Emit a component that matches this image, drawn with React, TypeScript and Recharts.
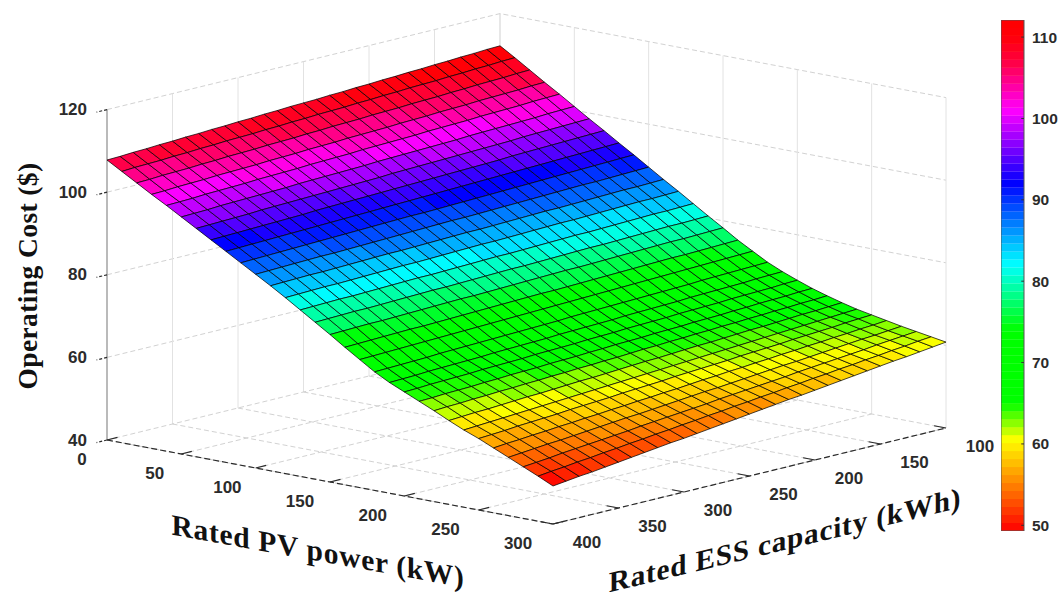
import { ComposedChart, ReferenceArea, ReferenceLine, Scatter, ScatterChart, XAxis, YAxis } from 'recharts'

// grid of the surface
const pvValues = [0, 10, 20, 30, 40, 50, 60, 70, 80, 90, 100, 110, 120, 130, 140, 150, 160, 170, 180, 190, 200, 210, 220, 230, 240, 250, 260, 270, 280, 290, 300]
const essValues = [100, 110, 120, 130, 140, 150, 160, 170, 180, 190, 200, 210, 220, 230, 240, 250, 260, 270, 280, 290, 300, 310, 320, 330, 340, 350, 360, 370, 380, 390, 400]

// operating cost, one row per PV value, one column per ESS value
const costRows = [
  [112.2, 112.1, 111.9, 111.8, 111.6, 111.5, 111.3, 111.2, 111.0, 110.9, 110.7, 110.6, 110.4, 110.3, 110.1, 110.0, 109.9, 109.7, 109.6, 109.4, 109.3, 109.1, 109.0, 108.8, 108.7, 108.5, 108.4, 108.2, 108.1, 107.9, 107.8],
  [110.0, 109.9, 109.7, 109.6, 109.4, 109.3, 109.1, 109.0, 108.9, 108.7, 108.6, 108.4, 108.3, 108.1, 108.0, 107.9, 107.7, 107.6, 107.4, 107.3, 107.1, 107.0, 106.9, 106.7, 106.6, 106.4, 106.3, 106.1, 106.0, 105.9, 105.7],
  [107.7, 107.6, 107.4, 107.3, 107.2, 107.0, 106.9, 106.7, 106.6, 106.5, 106.3, 106.2, 106.1, 105.9, 105.8, 105.7, 105.5, 105.4, 105.2, 105.1, 105.0, 104.8, 104.7, 104.6, 104.4, 104.3, 104.1, 104.0, 103.9, 103.7, 103.6],
  [105.4, 105.3, 105.1, 105.0, 104.9, 104.8, 104.6, 104.5, 104.4, 104.2, 104.1, 104.0, 103.8, 103.7, 103.6, 103.5, 103.3, 103.2, 103.1, 102.9, 102.8, 102.7, 102.5, 102.4, 102.3, 102.2, 102.0, 101.9, 101.8, 101.6, 101.5],
  [103.2, 103.1, 103.0, 102.8, 102.7, 102.6, 102.5, 102.3, 102.2, 102.1, 102.0, 101.8, 101.7, 101.6, 101.5, 101.4, 101.2, 101.1, 101.0, 100.9, 100.7, 100.6, 100.5, 100.4, 100.2, 100.1, 100.0, 99.9, 99.7, 99.6, 99.5],
  [100.9, 100.8, 100.7, 100.5, 100.4, 100.3, 100.2, 100.1, 100.0, 99.8, 99.7, 99.6, 99.5, 99.4, 99.3, 99.2, 99.0, 98.9, 98.8, 98.7, 98.6, 98.5, 98.3, 98.2, 98.1, 98.0, 97.9, 97.8, 97.6, 97.5, 97.4],
  [98.6, 98.5, 98.4, 98.3, 98.2, 98.1, 97.9, 97.8, 97.7, 97.6, 97.5, 97.4, 97.3, 97.2, 97.1, 97.0, 96.8, 96.7, 96.6, 96.5, 96.4, 96.3, 96.2, 96.1, 96.0, 95.9, 95.7, 95.6, 95.5, 95.4, 95.3],
  [96.4, 96.3, 96.2, 96.1, 96.0, 95.9, 95.8, 95.7, 95.5, 95.4, 95.3, 95.2, 95.1, 95.0, 94.9, 94.8, 94.7, 94.6, 94.5, 94.4, 94.3, 94.2, 94.1, 93.9, 93.8, 93.7, 93.6, 93.5, 93.4, 93.3, 93.2],
  [94.1, 94.0, 93.9, 93.8, 93.7, 93.6, 93.5, 93.4, 93.3, 93.2, 93.1, 93.0, 92.9, 92.8, 92.7, 92.6, 92.5, 92.4, 92.3, 92.2, 92.1, 92.0, 91.9, 91.8, 91.7, 91.6, 91.5, 91.4, 91.3, 91.2, 91.1],
  [91.9, 91.8, 91.7, 91.6, 91.5, 91.4, 91.3, 91.2, 91.1, 91.0, 90.9, 90.8, 90.7, 90.6, 90.5, 90.4, 90.3, 90.3, 90.2, 90.1, 90.0, 89.9, 89.8, 89.7, 89.6, 89.5, 89.4, 89.3, 89.2, 89.1, 89.0],
  [89.6, 89.5, 89.4, 89.3, 89.2, 89.2, 89.1, 89.0, 88.9, 88.8, 88.7, 88.6, 88.5, 88.4, 88.3, 88.3, 88.2, 88.1, 88.0, 87.9, 87.8, 87.7, 87.6, 87.5, 87.4, 87.4, 87.3, 87.2, 87.1, 87.0, 86.9],
  [87.3, 87.2, 87.1, 87.1, 87.0, 86.9, 86.8, 86.7, 86.6, 86.6, 86.5, 86.4, 86.3, 86.2, 86.1, 86.1, 86.0, 85.9, 85.8, 85.7, 85.6, 85.6, 85.5, 85.4, 85.3, 85.2, 85.1, 85.1, 85.0, 84.9, 84.8],
  [85.1, 85.0, 84.9, 84.9, 84.8, 84.7, 84.6, 84.5, 84.4, 84.4, 84.3, 84.2, 84.1, 84.0, 83.9, 83.9, 83.8, 83.7, 83.6, 83.5, 83.4, 83.4, 83.3, 83.2, 83.1, 83.0, 82.9, 82.9, 82.8, 82.7, 82.6],
  [82.8, 82.7, 82.6, 82.6, 82.5, 82.4, 82.3, 82.2, 82.1, 82.1, 82.0, 81.9, 81.8, 81.7, 81.6, 81.6, 81.5, 81.4, 81.3, 81.2, 81.1, 81.1, 81.0, 80.9, 80.8, 80.7, 80.6, 80.6, 80.5, 80.4, 80.3],
  [80.5, 80.4, 80.3, 80.3, 80.2, 80.1, 80.0, 79.9, 79.8, 79.8, 79.7, 79.6, 79.5, 79.4, 79.3, 79.3, 79.2, 79.1, 79.0, 78.9, 78.8, 78.8, 78.7, 78.6, 78.5, 78.4, 78.3, 78.3, 78.2, 78.1, 78.0],
  [78.3, 78.2, 78.1, 78.0, 78.0, 77.9, 77.8, 77.7, 77.6, 77.5, 77.4, 77.3, 77.3, 77.2, 77.1, 77.0, 76.9, 76.8, 76.7, 76.6, 76.6, 76.5, 76.4, 76.3, 76.2, 76.1, 76.0, 76.0, 75.9, 75.8, 75.7],
  [76.0, 75.9, 75.8, 75.7, 75.6, 75.6, 75.5, 75.4, 75.3, 75.2, 75.1, 75.0, 74.9, 74.8, 74.7, 74.7, 74.6, 74.5, 74.4, 74.3, 74.2, 74.1, 74.0, 73.9, 73.8, 73.8, 73.7, 73.6, 73.5, 73.4, 73.3],
  [74.0, 73.9, 73.8, 73.7, 73.6, 73.5, 73.4, 73.3, 73.2, 73.1, 73.0, 72.9, 72.8, 72.7, 72.6, 72.5, 72.4, 72.3, 72.2, 72.1, 72.0, 71.9, 71.8, 71.7, 71.6, 71.5, 71.4, 71.3, 71.2, 71.1, 71.0],
  [72.0, 71.9, 71.8, 71.7, 71.6, 71.5, 71.3, 71.2, 71.1, 71.0, 70.9, 70.8, 70.7, 70.6, 70.5, 70.4, 70.2, 70.1, 70.0, 69.9, 69.8, 69.7, 69.6, 69.5, 69.4, 69.3, 69.1, 69.0, 68.9, 68.8, 68.7],
  [70.4, 70.3, 70.2, 70.0, 69.9, 69.8, 69.7, 69.6, 69.4, 69.3, 69.2, 69.1, 69.0, 68.8, 68.7, 68.6, 68.5, 68.4, 68.2, 68.1, 68.0, 67.9, 67.8, 67.6, 67.5, 67.4, 67.3, 67.2, 67.0, 66.9, 66.8],
  [69.0, 68.9, 68.7, 68.6, 68.5, 68.4, 68.2, 68.1, 68.0, 67.9, 67.7, 67.6, 67.5, 67.4, 67.2, 67.1, 67.0, 66.8, 66.7, 66.6, 66.5, 66.3, 66.2, 66.1, 66.0, 65.8, 65.7, 65.6, 65.5, 65.3, 65.2],
  [67.7, 67.6, 67.4, 67.3, 67.2, 67.0, 66.9, 66.7, 66.6, 66.5, 66.3, 66.2, 66.1, 65.9, 65.8, 65.7, 65.5, 65.4, 65.2, 65.1, 65.0, 64.8, 64.7, 64.6, 64.4, 64.3, 64.1, 64.0, 63.9, 63.7, 63.6],
  [66.6, 66.4, 66.3, 66.1, 66.0, 65.8, 65.7, 65.5, 65.4, 65.2, 65.1, 64.9, 64.8, 64.6, 64.5, 64.3, 64.1, 64.0, 63.8, 63.7, 63.5, 63.4, 63.2, 63.1, 62.9, 62.8, 62.6, 62.5, 62.3, 62.2, 62.0],
  [65.6, 65.4, 65.2, 65.1, 64.9, 64.7, 64.5, 64.4, 64.2, 64.0, 63.8, 63.7, 63.5, 63.3, 63.1, 63.0, 62.8, 62.6, 62.4, 62.2, 62.1, 61.9, 61.7, 61.5, 61.4, 61.2, 61.0, 60.8, 60.7, 60.5, 60.3],
  [64.7, 64.5, 64.3, 64.1, 63.9, 63.7, 63.5, 63.3, 63.1, 62.9, 62.7, 62.5, 62.3, 62.1, 61.9, 61.7, 61.5, 61.3, 61.1, 60.9, 60.7, 60.5, 60.3, 60.1, 59.9, 59.7, 59.5, 59.3, 59.1, 58.9, 58.7],
  [64.0, 63.8, 63.6, 63.3, 63.1, 62.9, 62.7, 62.4, 62.2, 62.0, 61.8, 61.5, 61.3, 61.1, 60.9, 60.7, 60.4, 60.2, 60.0, 59.8, 59.5, 59.3, 59.1, 58.9, 58.6, 58.4, 58.2, 58.0, 57.7, 57.5, 57.3],
  [63.3, 63.0, 62.8, 62.5, 62.3, 62.0, 61.8, 61.5, 61.3, 61.0, 60.8, 60.5, 60.3, 60.0, 59.8, 59.5, 59.2, 59.0, 58.7, 58.5, 58.2, 58.0, 57.7, 57.5, 57.2, 57.0, 56.7, 56.5, 56.2, 56.0, 55.7],
  [62.6, 62.3, 62.0, 61.8, 61.5, 61.2, 60.9, 60.6, 60.3, 60.1, 59.8, 59.5, 59.2, 58.9, 58.6, 58.4, 58.1, 57.8, 57.5, 57.2, 56.9, 56.7, 56.4, 56.1, 55.8, 55.5, 55.2, 55.0, 54.7, 54.4, 54.1],
  [62.0, 61.7, 61.4, 61.1, 60.7, 60.4, 60.1, 59.8, 59.5, 59.2, 58.8, 58.5, 58.2, 57.9, 57.6, 57.3, 56.9, 56.6, 56.3, 56.0, 55.7, 55.4, 55.0, 54.7, 54.4, 54.1, 53.8, 53.5, 53.1, 52.8, 52.5],
  [61.4, 61.1, 60.7, 60.4, 60.0, 59.7, 59.3, 59.0, 58.6, 58.3, 57.9, 57.6, 57.2, 56.9, 56.5, 56.2, 55.8, 55.5, 55.1, 54.8, 54.4, 54.1, 53.7, 53.4, 53.0, 52.7, 52.3, 52.0, 51.6, 51.3, 50.9],
  [60.8, 60.4, 60.0, 59.6, 59.3, 58.9, 58.5, 58.1, 57.7, 57.3, 56.9, 56.5, 56.2, 55.8, 55.4, 55.0, 54.6, 54.2, 53.8, 53.4, 53.0, 52.7, 52.3, 51.9, 51.5, 51.1, 50.7, 50.3, 50.0, 49.6, 49.2],
]

const pvTicks = [0, 50, 100, 150, 200, 250, 300]
const essTicks = [100, 150, 200, 250, 300, 350, 400]
const costTicks = [40, 60, 80, 100, 120]
const colorbarTicks = [50, 60, 70, 80, 90, 100, 110]

// colormap: cost value -> hue
const colorValues = [49.3, 60.5, 65, 74, 82, 92, 101, 107, 110, 112.1]
const colorHues = [0, 60, 120, 120, 180, 240, 300, 345, 358, 360]
const colorLevelCount = 64

const WIDTH = 1060
const HEIGHT = 592

function levelOf(v: number) {
  const min = colorValues[0]
  const max = colorValues[colorValues.length - 1]
  const t = Math.min(0.9999, Math.max(0, (v - min) / (max - min)))
  return Math.floor(t * colorLevelCount)
}

function levelColor(level: number) {
  const min = colorValues[0]
  const max = colorValues[colorValues.length - 1]
  const v = min + ((level + 0.5) / colorLevelCount) * (max - min)
  let i = 0
  while (i < colorValues.length - 2 && v > colorValues[i + 1]) i++
  const t = (v - colorValues[i]) / (colorValues[i + 1] - colorValues[i])
  const hue = colorHues[i] + t * (colorHues[i + 1] - colorHues[i])
  return `hsl(${hue.toFixed(1)}, 100%, 50%)`
}

// fixed oblique view of the box, the same one the original plot uses
function project(pv: number, ess: number, cost: number) {
  const a = pv / 300
  const b = (400 - ess) / 300
  return {
    x: 107 + a * 446 + b * 393,
    y: 440 + a * 84 - b * 96 - (cost - 40) * 4.13,
  }
}

const cells: any[] = []
for (let i = 0; i < pvValues.length - 1; i++) {
  for (let j = essValues.length - 2; j >= 0; j--) {
    const corners = [
      project(pvValues[i], essValues[j], costRows[i][j]),
      project(pvValues[i + 1], essValues[j], costRows[i + 1][j]),
      project(pvValues[i + 1], essValues[j + 1], costRows[i + 1][j + 1]),
      project(pvValues[i], essValues[j + 1], costRows[i][j + 1]),
    ]
    const mean = (costRows[i][j] + costRows[i + 1][j] + costRows[i + 1][j + 1] + costRows[i][j + 1]) / 4
    cells.push({ x: corners[0].x, y: corners[0].y, corners, fill: levelColor(levelOf(mean)) })
  }
}

const levels = Array.from({ length: colorLevelCount }, (_, k) => k)

const WALL = '#e2e2e2'
const DASH = '#d2d2d2'
const AXIS = '#2a2a2a'

type Guide = { pts: { x: number; y: number }[]; stroke: string; dash?: string; width?: number }
const guides: Guide[] = [
  ...costTicks.slice(1).map((c) => ({
    pts: [project(0, 400, c), project(0, 100, c), project(300, 100, c)],
    stroke: DASH,
    dash: '5 3',
  })),
  ...essTicks.slice(0, 6).map((e) => ({ pts: [project(0, e, 40), project(0, e, 120)], stroke: e === 100 ? '#cfcfcf' : WALL })),
  ...pvTicks.slice(1).map((p) => ({ pts: [project(p, 100, 40), project(p, 100, 120)], stroke: WALL })),
  ...pvTicks.map((p) => ({ pts: [project(p, 400, 40), project(p, 100, 40)], stroke: DASH, dash: '5 3' })),
  ...essTicks.map((e) => ({ pts: [project(0, e, 40), project(300, e, 40)], stroke: DASH, dash: '5 3' })),
  { pts: [project(0, 400, 40), project(0, 400, 120)], stroke: '#8c8c8c', width: 1.2 },
  { pts: [project(0, 400, 40), project(300, 400, 40)], stroke: AXIS, dash: '6 3', width: 1.2 },
  { pts: [project(300, 400, 40), project(300, 100, 40)], stroke: AXIS, dash: '6 3', width: 1.2 },
  ...pvTicks.map((p) => ({ pts: [project(p, 400, 40), project(p, 392, 40)], stroke: AXIS, width: 1.2 })),
  ...essTicks.map((e) => ({ pts: [project(300, e, 40), project(292, e, 40)], stroke: AXIS, width: 1.2 })),
  ...costTicks.map((c) => ({ pts: [project(0, 400, c), project(0, 408, c)], stroke: AXIS, dash: '3 2', width: 1.2 })),
]

const tickFont = { fontFamily: '"Liberation Sans", Arial, sans-serif', fontWeight: 700, fontSize: 17, fill: '#2b2b2b' }
const titleFont = { fontFamily: '"Liberation Serif", "Times New Roman", serif', fontWeight: 700, fill: '#111' }

const tickLabels = [
  ...costTicks.map((c) => {
    const p = project(0, 400, c)
    return { x: p.x - 20, y: p.y, text: String(c), anchor: 'end' }
  }),
  ...pvTicks.map((v) => {
    const p = project(v, 400, 40)
    return { x: p.x - 25 - v * 0.033, y: p.y + 19, text: String(v), anchor: 'middle' }
  }),
  ...essTicks.map((v) => {
    const p = project(300, v, 40)
    return { x: p.x + 34, y: p.y + 18, text: String(v), anchor: 'middle' }
  }),
]

const titles = [
  { x: 27, y: 276, text: 'Operating Cost ($)', turn: 'rotate(-90)', size: 27.5, spacing: 0.4 },
  { x: 318, y: 551, text: 'Rated PV power (kW)', turn: 'skewY(10.2)', size: 29.5, spacing: 0.7 },
  { x: 785, y: 540, text: 'Rated ESS capacity (kWh)', turn: 'skewY(-13.6)', size: 29.2, spacing: 0.8 },
]

function Cell(props: any) {
  const { cx, cy, payload } = props
  const dx = cx - payload.x
  const dy = cy - payload.y
  const pts = payload.corners.map((c: any) => `${c.x + dx},${c.y + dy}`).join(' ')
  return <polygon points={pts} fill={payload.fill} stroke="#000" strokeWidth={0.8} strokeOpacity={0.9} />
}

function TickText(props: any) {
  const { cx, cy, payload } = props
  return (
    <text x={cx} y={cy} textAnchor={payload.anchor} dominantBaseline="central" {...tickFont}>
      {payload.text}
    </text>
  )
}

function TitleText(props: any) {
  const { cx, cy, payload } = props
  return (
    <text
      x={0}
      y={0}
      textAnchor="middle"
      dominantBaseline="central"
      transform={`translate(${cx} ${cy}) ${payload.turn}`}
      letterSpacing={payload.spacing}
      {...titleFont}
      fontSize={payload.size}
    >
      {payload.text}
    </text>
  )
}

const NoDot = () => <g />

function Colorbar() {
  const min = colorValues[0]
  const max = colorValues[colorValues.length - 1]
  const step = (max - min) / colorLevelCount
  return (
    <div style={{ position: 'absolute', left: 1001, top: 20 }}>
      <ComposedChart width={59} height={511} data={[{ x: 0 }, { x: 1 }]} margin={{ top: 0, right: 0, bottom: 0, left: 0 }}>
        <XAxis type="number" dataKey="x" domain={[0, 1]} hide />
        <YAxis
          type="number"
          orientation="right"
          width={36}
          domain={[min, max]}
          ticks={colorbarTicks}
          interval={0}
          axisLine={false}
          tickLine={false}
          tickSize={0}
          tickMargin={8}
          tick={{ ...tickFont, fontSize: 15.5, textAnchor: 'start' }}
          allowDataOverflow
        />
        {levels.map((k) => (
          <ReferenceArea
            key={k}
            x1={0}
            x2={1}
            y1={min + k * step}
            y2={min + (k + 1) * step + 0.02}
            fill={levelColor(k)}
            fillOpacity={1}
            stroke="none"
            ifOverflow="visible"
          />
        ))}
        <ReferenceArea x1={0} x2={1} y1={min} y2={max} fill="none" stroke="#555" strokeWidth={1} ifOverflow="visible" />
        {colorbarTicks.map((t) => (
          <ReferenceLine key={t} segment={[{ x: 0.88, y: t }, { x: 1, y: t }]} stroke="#333" />
        ))}
      </ComposedChart>
    </div>
  )
}

export default function App() {
  return (
    <div style={{ position: 'absolute', left: 0, top: 0, width: WIDTH, height: HEIGHT, background: '#fff', overflow: 'hidden' }}>
      <ScatterChart width={WIDTH} height={HEIGHT} margin={{ top: 0, right: 0, bottom: 0, left: 0 }}>
        <XAxis type="number" dataKey="x" domain={[0, WIDTH]} hide />
        <YAxis type="number" dataKey="y" domain={[0, HEIGHT]} reversed hide />
        {guides.map((g, i) => (
          <Scatter
            key={i}
            data={g.pts}
            isAnimationActive={false}
            shape={NoDot}
            line={{ stroke: g.stroke, strokeDasharray: g.dash, strokeWidth: g.width ?? 1 }}
          />
        ))}
        <Scatter data={cells} isAnimationActive={false} shape={Cell} />
        <Scatter data={tickLabels} isAnimationActive={false} shape={TickText} />
        <Scatter data={titles} isAnimationActive={false} shape={TitleText} />
      </ScatterChart>
      <Colorbar />
    </div>
  )
}
